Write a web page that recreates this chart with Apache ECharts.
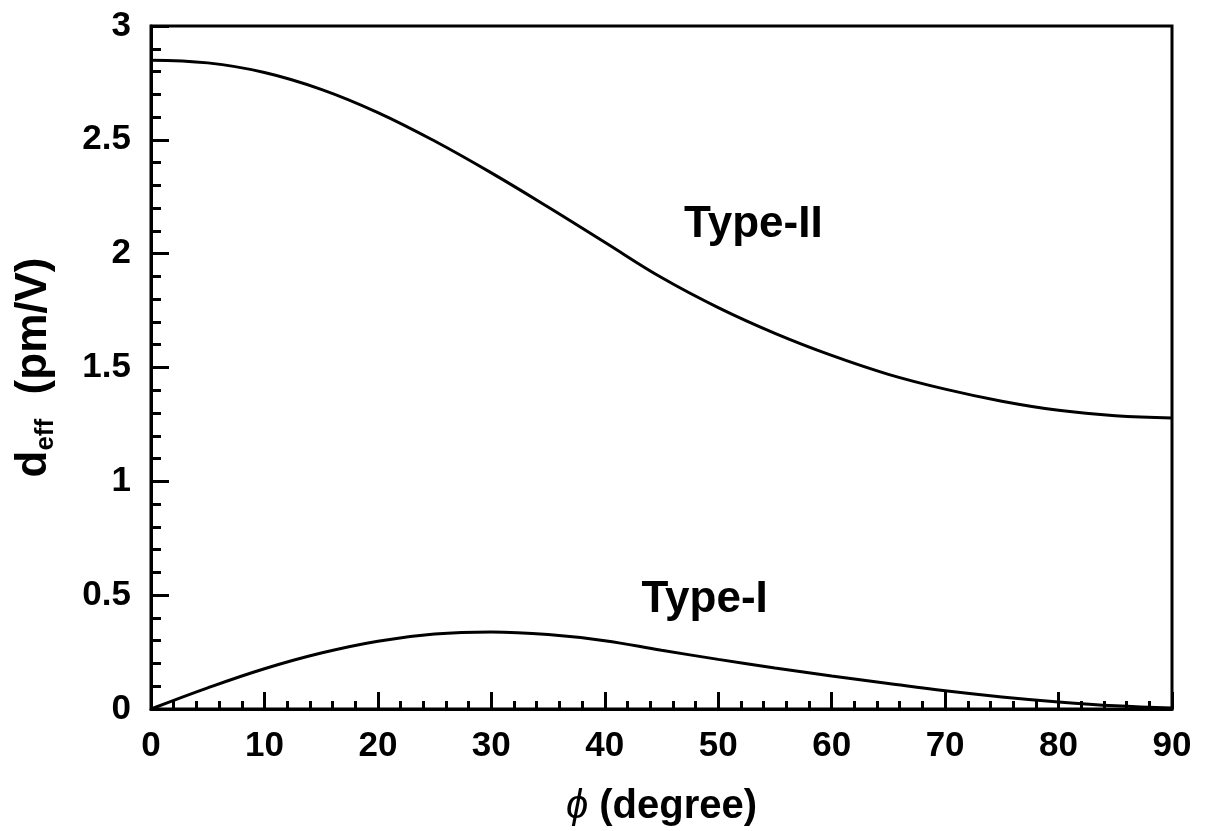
<!DOCTYPE html>
<html>
<head>
<meta charset="utf-8">
<script src="https://cdn.jsdelivr.net/npm/echarts@6/dist/echarts.min.js"></script>
<style>html,body{margin:0;padding:0;background:#fff}#c{width:1205px;height:831px}</style>
</head>
<body>
<div id="c"></div>
<script>
// ---- data ----
const phiDeg = [0,5,10,15,20,25,30,35,40,45,50,55,60,65,70,75,80,85,90];
const typeII = [2.85,2.838,2.796,2.722,2.62,2.495,2.355,2.205,2.05,1.895,1.763,1.65,1.553,1.47,1.405,1.352,1.312,1.288,1.278];
const typeI  = [0,0.093,0.177,0.246,0.298,0.329,0.338,0.327,0.300,0.258,0.218,0.18,0.145,0.112,0.080,0.053,0.031,0.014,0.004];
const seriesNames = ['Type-II','Type-I'];
// label anchor points in data coordinates (phi, d_eff)
const labelAnchors = [[53.1, 2.126],[48.8, 0.479]];

const FONT = '"Liberation Sans", Arial, Helvetica, sans-serif';
const chart = echarts.init(document.getElementById('c'), null, {renderer:'canvas'});

function pairs(xs, ys){ return xs.map((x,i)=>[x, ys[i]]); }

const option = {
  backgroundColor:'#fff',
  animation:false,
  textStyle:{fontFamily:FONT, color:'#000'},
  grid:{left:151, right:33, top:26, bottom:122, show:true, borderColor:'#000', borderWidth:3, outerBoundsMode:'none', containLabel:false},
  xAxis:{
    type:'value', min:0, max:90, interval:10,
    axisLine:{show:true, onZero:false, lineStyle:{color:'#000', width:3}},
    axisTick:{show:true, inside:true, length:17, lineStyle:{color:'#000', width:3}},
    minorTick:{show:true, splitNumber:5, length:8, lineStyle:{color:'#000', width:3}},
    splitLine:{show:false},
    axisLabel:{color:'#000', fontFamily:FONT, fontSize:35, fontWeight:'bold', margin:20},
    name:'{phi|\u03D5} (degree)', nameLocation:'middle', nameGap:78,
    nameTextStyle:{color:'#000', fontFamily:FONT, fontSize:40, fontWeight:'bold',
      rich:{phi:{fontFamily:FONT, fontSize:40, fontStyle:'italic', fontWeight:'normal', color:'#000'}}}
  },
  yAxis:{
    type:'value', min:0, max:3, interval:0.5,
    axisLine:{show:true, onZero:false, lineStyle:{color:'#000', width:3}},
    axisTick:{show:true, inside:true, length:18, lineStyle:{color:'#000', width:3}},
    minorTick:{show:true, splitNumber:5, length:10, lineStyle:{color:'#000', width:3}},
    splitLine:{show:false},
    axisLabel:{color:'#000', fontFamily:FONT, fontSize:35, fontWeight:'bold', margin:20},
    name:'{m|d}{s|eff}{m|  (pm/V)}', nameLocation:'middle', nameGap:92,
    nameTextStyle:{color:'#000', fontFamily:FONT, fontSize:44, fontWeight:'bold',
      rich:{
        m:{fontFamily:FONT, fontSize:44, fontWeight:'bold', color:'#000', lineHeight:50},
        s:{fontFamily:FONT, fontSize:26, fontWeight:'bold', color:'#000', verticalAlign:'bottom', lineHeight:26}
      }}
  },
  series:[
    {name:seriesNames[0], type:'line', data:pairs(phiDeg, typeII), smooth:0.4, showSymbol:false, symbol:'none',
      lineStyle:{color:'#000', width:3}, silent:true},
    {name:seriesNames[1], type:'line', data:pairs(phiDeg, typeI), smooth:0.4, showSymbol:false, symbol:'none',
      lineStyle:{color:'#000', width:3}, silent:true}
  ]
};
chart.setOption(option);

const graphics = labelAnchors.map((a,i)=>{
  const p = chart.convertToPixel({gridIndex:0}, a);
  return {type:'text', x:p[0], y:p[1], silent:true,
    style:{text:seriesNames[i], fontFamily:FONT, fontSize:44, fontWeight:'bold', fill:'#000', align:'center', verticalAlign:'middle'}};
});
chart.setOption({graphic:graphics});
</script>
</body>
</html>
